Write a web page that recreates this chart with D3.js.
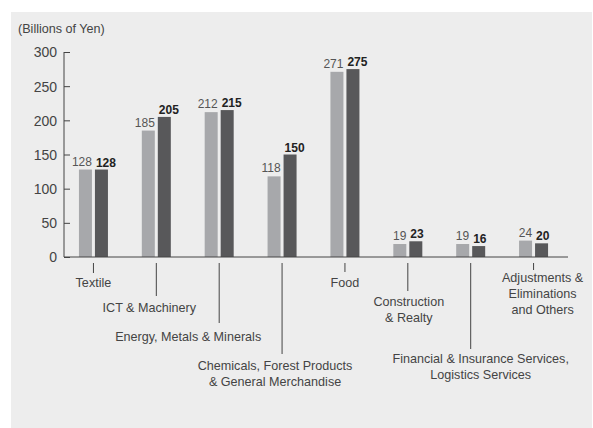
<!DOCTYPE html>
<html>
<head>
<meta charset="utf-8">
<script src="https://cdn.jsdelivr.net/npm/d3@7"></script>
<style>
  body { margin: 0; background: #fff; }
  svg text { font-family: "Liberation Sans", Arial, sans-serif; fill: #444; }
</style>
</head>
<body>
<div id="chartArea"></div>
<script>
// segment names (line breaks as in the original)
var categories = [
  ["Textile"],
  ["ICT & Machinery"],
  ["Energy, Metals & Minerals"],
  ["Chemicals, Forest Products", "& General Merchandise"],
  ["Food"],
  ["Construction", "& Realty"],
  ["Financial & Insurance Services,", "Logistics Services"],
  ["Adjustments &", "Eliminations", "and Others"]
];
var prevValues = [128, 185, 212, 118, 271, 19, 19, 24];
var currValues = [128, 205, 215, 150, 275, 23, 16, 20];
var yTicks = [0, 50, 100, 150, 200, 250, 300];

// leader line end / label baseline / label shift, per category
var leader = [
  {end: 273, base: 287, dx: 0},
  {end: 296, base: 312, dx: -7},
  {end: 323, base: 341, dx: -31},
  {end: 354, base: 370, dx: -7},
  {end: 272, base: 287, dx: 0},
  {end: 291, base: 306, dx: 1},
  {end: 349, base: 363, dx: 10},
  {end: 270, base: 282, dx: 9}
];

var W = 593, H = 428;
var svg = d3.select("#chartArea").append("svg")
  .attr("width", W).attr("height", H);

svg.append("rect")
  .attr("x", 11).attr("y", 12)
  .attr("width", 581).attr("height", 416)
  .attr("fill", "#ededed");

var y = d3.scaleLinear().domain([0, 300]).range([257, 52]);
var x = d3.scaleBand().domain(d3.range(categories.length)).range([62, 565]);
var barW = 13, gap = 3;

svg.append("text")
  .attr("x", 18).attr("y", 33)
  .style("font-size", "12.6px")
  .text("(Billions of Yen)");

// y axis
var yAxis = svg.append("g")
  .attr("transform", "translate(64,0)")
  .call(d3.axisRight(y).tickValues(yTicks).tickSize(6).tickFormat(d3.format("d")));
yAxis.select(".domain").attr("stroke", "#444").attr("d", "M0,52V257");
yAxis.selectAll("line").attr("stroke", "#444");
yAxis.selectAll("text")
  .attr("x", -7).attr("dy", "0.35em")
  .attr("text-anchor", "end")
  .style("font-size", "14px")
  .style("fill", "#444");

// bars
var groups = svg.selectAll(".grp")
  .data(categories)
  .enter().append("g")
  .attr("class", "grp");

groups.append("rect")
  .attr("x", function(d, i) { return x(i) + x.bandwidth() / 2 - gap / 2 - barW; })
  .attr("y", function(d, i) { return y(prevValues[i]); })
  .attr("width", barW)
  .attr("height", function(d, i) { return y(0) - y(prevValues[i]); })
  .attr("fill", "#a7a8ab");

groups.append("rect")
  .attr("x", function(d, i) { return x(i) + x.bandwidth() / 2 + gap / 2; })
  .attr("y", function(d, i) { return y(currValues[i]); })
  .attr("width", barW)
  .attr("height", function(d, i) { return y(0) - y(currValues[i]); })
  .attr("fill", "#58585a");

groups.append("text")
  .attr("x", function(d, i) { return x(i) + x.bandwidth() / 2 - gap / 2; })
  .attr("y", function(d, i) { return y(prevValues[i]) - 4; })
  .attr("text-anchor", "end")
  .style("font-size", "12px")
  .style("fill", "#555")
  .text(function(d, i) { return prevValues[i]; });

groups.append("text")
  .attr("x", function(d, i) { return x(i) + x.bandwidth() / 2 + gap / 2 + 1; })
  .attr("y", function(d, i) { return y(currValues[i]) - 3; })
  .style("font-size", "12px")
  .style("font-weight", "bold")
  .style("fill", "#222")
  .text(function(d, i) { return currValues[i]; });

// baseline
svg.append("line")
  .attr("x1", 64).attr("x2", 568)
  .attr("y1", y(0)).attr("y2", y(0))
  .attr("stroke", "#444");

// leader lines and labels
groups.append("line")
  .attr("x1", function(d, i) { return x(i) + x.bandwidth() / 2; })
  .attr("x2", function(d, i) { return x(i) + x.bandwidth() / 2; })
  .attr("y1", 263)
  .attr("y2", function(d, i) { return leader[i].end; })
  .attr("stroke", "#444");

groups.append("text")
  .attr("text-anchor", "middle")
  .style("font-size", "12.6px")
  .each(function(d, i) {
    var t = d3.select(this);
    var cx = x(i) + x.bandwidth() / 2 + leader[i].dx;
    d.forEach(function(line, j) {
      t.append("tspan")
        .attr("x", cx)
        .attr("y", leader[i].base + j * 16)
        .text(line);
    });
  });
</script>
</body>
</html>
